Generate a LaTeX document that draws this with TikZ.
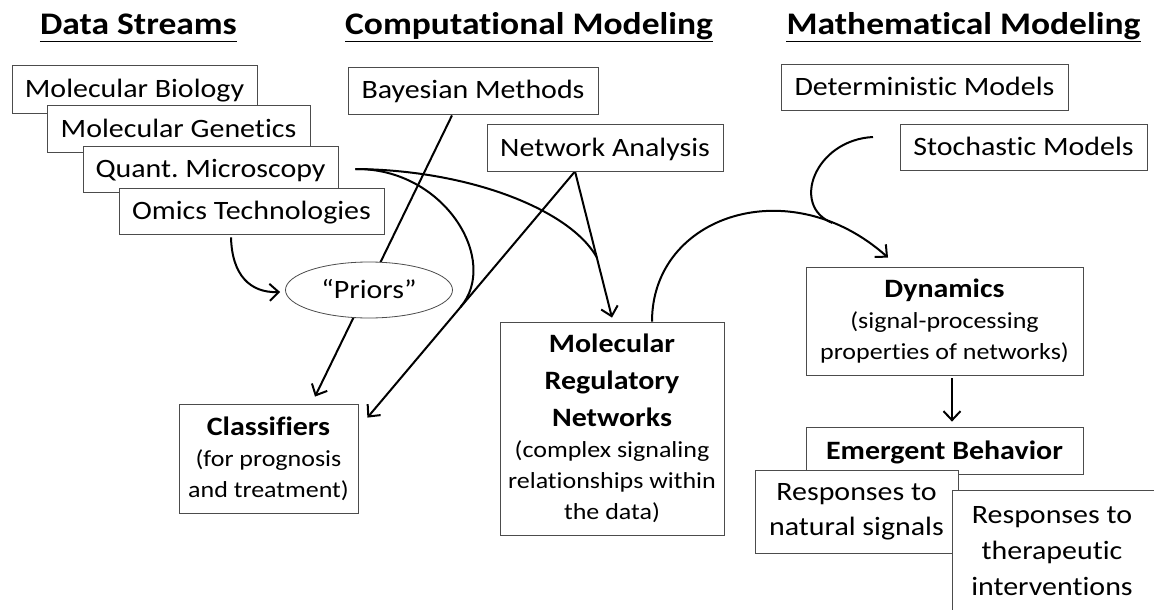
\documentclass[tikz,border=0pt]{standalone}
\usepackage{fontspec}
\setmainfont{Carlito}[FakeStretch=1.13,Ligatures=NoCommon]
\usetikzlibrary{arrows.meta,shapes.geometric,backgrounds}
\newcommand\FB{\fontsize{26.5}{31}\selectfont}
\newcommand\FS{\fontsize{23}{31}\selectfont}
\frenchspacing
\begin{document}
\begin{tikzpicture}[x=1pt,y=-1pt,
  box/.style={draw=black!70,line width=0.8pt,fill=white,inner sep=0pt,align=center,font=\FS},
  one/.style={font=\FB,text height=17pt,text depth=0pt},
  txt/.style={inner sep=0pt,align=center},
  head/.style={inner sep=0pt,anchor=base,font=\fontsize{31.4}{36}\selectfont\bfseries},
  uline/.style={line width=1.8pt},
  conn/.style={line width=2pt},
  arr/.style={line width=2pt,-{Straight Barb[length=9pt,width=17pt]}},
]
\useasboundingbox (0,0) rectangle (1154,610);
\clip (0,0) rectangle (1154,610);

% headings
\node[head] (h1) at (138.5,35) {Data Streams};
\node[head] (h2) at (529,35) {Computational Modeling};
\node[head] (h3) at (963.5,35) {Mathematical Modeling};
\foreach \h in {h1,h2,h3}{
  \draw[uline] ([yshift=-6.5pt]\h.base west) -- ([yshift=-6.5pt]\h.base east);
}

% data streams
\node[box,one,minimum width=245pt,minimum height=48pt] (mb) at (134.5,89) {Molecular Biology};
\node[box,one,minimum width=263pt,minimum height=47pt] (mg) at (178.5,128.5) {Molecular Genetics};
\node[box,one,minimum width=255pt,minimum height=46pt] (qm) at (210.5,169) {Quant. Microscopy};
\node[box,one,minimum width=265pt,minimum height=46pt] (ot) at (251.5,211) {Omics Technologies};

% computational modeling
\node[box,one,minimum width=250pt,minimum height=47pt] (bm) at (473,90.5) {Bayesian Methods};
\node[box,one,minimum width=236pt,minimum height=47pt] (na) at (605,147.5) {Network Analysis};
\node[box,one,ellipse,minimum width=167pt,minimum height=56pt] (pr) at (369,290) {“Priors”};
\node[box,minimum width=179pt,minimum height=109pt] (cl) at (268.5,458.5)
  {{\FB\bfseries Classifiers}\\(for prognosis\\and treatment)};
\node[box,minimum width=224pt,minimum height=213pt] (mrn) at (612,428.5)
  {{\FB\bfseries Molecular}\\[6pt]{\FB\bfseries Regulatory}\\[6pt]{\FB\bfseries Networks}\\(complex signaling\\relationships within\\the data)};

% mathematical modeling
\node[box,one,minimum width=287pt,minimum height=46pt] (dm) at (924.5,87) {Deterministic Models};
\node[box,one,minimum width=247pt,minimum height=46pt] (sm) at (1023.5,147) {Stochastic Models};
\node[box,minimum width=277pt,minimum height=108pt] (dyn) at (944.5,321)
  {{\FB\bfseries Dynamics}\\(signal-processing\\properties of networks)};
\node[box,one,minimum width=277pt,minimum height=47pt] (eb) at (944.5,450.5) {\bfseries Emergent Behavior};
\node[box,font=\fontsize{26.5}{35}\selectfont,minimum width=203pt,minimum height=83pt] (rn) at (856.5,511.5) {Responses to\\natural signals};
\node[box,minimum width=206pt,minimum height=135pt] (rt) at (1055,557.5) {};
\node[txt,anchor=north,font=\fontsize{26.5}{36}\selectfont] (rtx) at (1052,506) {Responses to\\therapeutic\\interventions};

% connector helper points
\coordinate (qmo) at ([xshift=17pt]qm.east);
\coordinate (nao) at ([xshift=-30pt]na.south);
\coordinate (m1) at (460.5,307);
\coordinate (m2) at (596.6,257);
\coordinate (dmo) at (873,137);
\coordinate (m3) at (832.2,222.9);

\begin{pgfonlayer}{background}
  % Omics -> Priors
  \draw[arr] ([xshift=-20.5pt,yshift=-3pt]ot.south) .. controls (232,275) and (250,293) .. ([xshift=-5pt,yshift=-2pt]pr.west);
  % Bayesian -> Classifiers (behind Priors)
  \draw[arr] ([xshift=-21pt,yshift=-1pt]bm.south) -- ([xshift=46.5pt,yshift=7pt]cl.north);
  % Network Analysis -> Classifiers / MRN
  \draw[arr] (nao) -- ([xshift=9pt,yshift=-14pt]cl.north east);
  \draw[arr] (nao) -- ([yshift=4pt]mrn.north);
  % Quant. Microscopy curves merging into those lines
  \draw[conn] (qmo) .. controls (445,168) and (500,261) .. (m1);
  \draw[conn] (qmo) .. controls (470,170) and (570,210) .. (m2);
  % MRN -> Dynamics
  \draw[arr] ([xshift=40pt]mrn.north) .. controls (652,215) and (790,170) .. ([xshift=-56.5pt,yshift=9pt]dyn.north);
  % Deterministic / Stochastic models curve merging into arc
  \draw[conn] (dmo) .. controls (815,140) and (790,206) .. (m3);
  % Dynamics -> Emergent Behavior
  \draw[arr] ([xshift=7.5pt,yshift=-3pt]dyn.south) -- ([xshift=7.5pt,yshift=5pt]eb.north);
\end{pgfonlayer}
\end{tikzpicture}
\end{document}
